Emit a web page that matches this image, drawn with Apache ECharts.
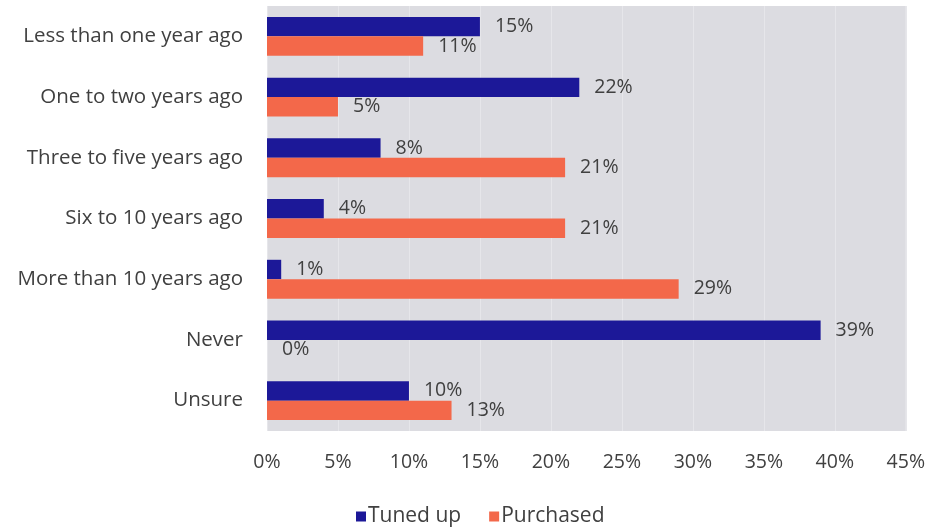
<!DOCTYPE html>
<html>
<head>
<meta charset="utf-8">
<script src="https://cdn.jsdelivr.net/npm/echarts@6/dist/echarts.min.js"></script>
<style>
  html, body { margin: 0; padding: 0; background: #ffffff; }
  #chart { width: 928px; height: 527px; }
</style>
</head>
<body>
<div id="chart"></div>
<script>
// When was the item last tuned up / purchased (share of respondents)
const categories = [
  'Less than one year ago',
  'One to two years ago',
  'Three to five years ago',
  'Six to 10 years ago',
  'More than 10 years ago',
  'Never',
  'Unsure'
];
const tunedUp = [15, 22, 8, 4, 1, 39, 10];
const purchased = [11, 5, 21, 21, 29, 0, 13];
const seriesNames = ['Tuned up', 'Purchased'];

const textColor = '#404040';
const fontFamily = '"Open Sans", "Noto Sans", sans-serif';

const chart = echarts.init(document.getElementById('chart'));

const valueLabel = {
  show: true,
  position: 'right',
  distance: 15,
  color: textColor,
  fontFamily: fontFamily,
  fontSize: 19.5,
  formatter: p => p.value + '%'
};

chart.setOption({
  animation: false,
  textStyle: { fontFamily: fontFamily },
  grid: {
    left: 267,
    right: 22,
    top: 6,
    bottom: 96,
    show: true,
    backgroundColor: '#dcdce1',
    borderWidth: 0
  },
  legend: {
    data: seriesNames,
    left: 351,
    top: 501,
    icon: 'rect',
    itemWidth: 10,
    itemHeight: 10,
    itemGap: 28,
    textStyle: { color: textColor, fontSize: 21, fontFamily: fontFamily, padding: [0, 0, 0, -3] }
  },
  xAxis: {
    type: 'value',
    min: 0,
    max: 45,
    interval: 5,
    axisLine: { show: false },
    axisTick: { show: false },
    axisLabel: {
      formatter: '{value}%',
      color: textColor,
      fontSize: 19.5,
      margin: 21,
      fontFamily: fontFamily
    },
    splitLine: { lineStyle: { color: '#e6e6ea', width: 1 } }
  },
  yAxis: {
    type: 'category',
    data: categories,
    inverse: true,
    axisLine: { show: false },
    axisTick: { show: false },
    axisLabel: {
      color: textColor,
      fontSize: 20.5,
      margin: 24,
      fontFamily: fontFamily
    }
  },
  series: [
    {
      name: seriesNames[0],
      type: 'bar',
      data: tunedUp,
      barGap: '0%',
      barCategoryGap: '36%',
      itemStyle: { color: '#1c1898' },
      label: valueLabel
    },
    {
      name: seriesNames[1],
      type: 'bar',
      data: purchased,
      itemStyle: { color: '#f3684a' },
      label: valueLabel
    }
  ]
});
</script>
</body>
</html>
